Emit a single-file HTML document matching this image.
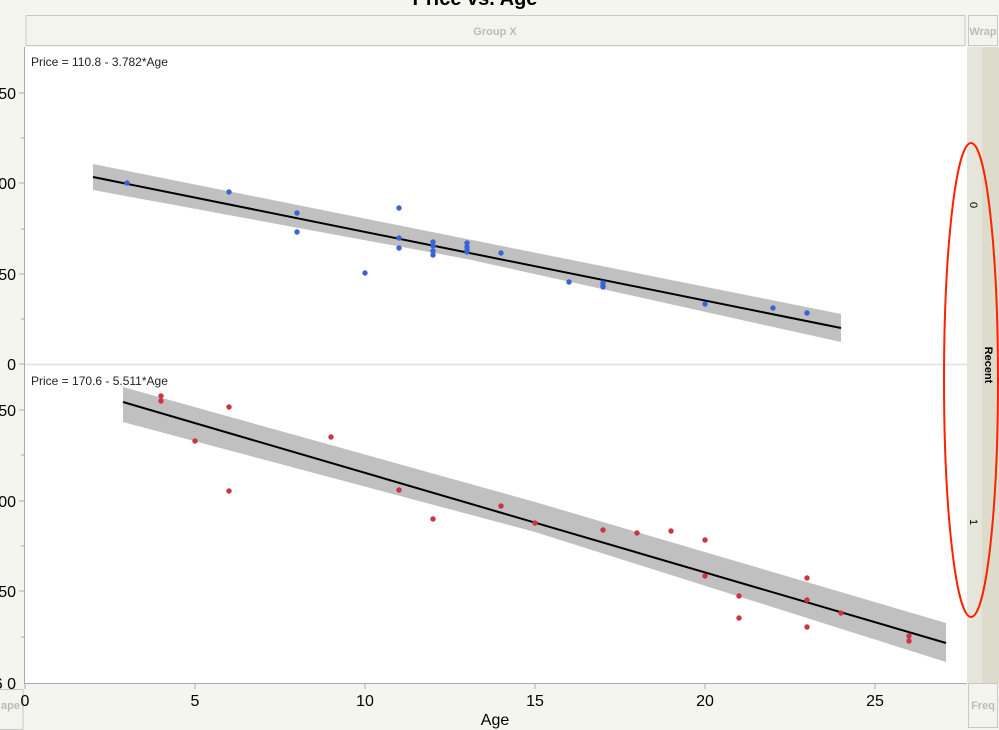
<!DOCTYPE html>
<html><head><style>body{margin:0;background:#f5f5f0;}svg{display:block;font-family:"Liberation Sans",sans-serif;}</style></head>
<body>
<svg width="999" height="730" viewBox="0 0 999 730">
<rect width="999" height="730" fill="#f5f5f0"/>
<text x="475" y="5" font-size="20" font-weight="bold" text-anchor="middle">Price vs. Age</text>
<rect x="26" y="15.5" width="939" height="30" fill="#f4f4ef" stroke="#c8c8c8"/>
<text x="495" y="35" font-size="11" font-weight="bold" fill="#bbb" text-anchor="middle">Group X</text>
<rect x="968.5" y="15.5" width="29" height="30" fill="#f4f4ef" stroke="#c8c8c8"/>
<text x="983" y="35" font-size="11" font-weight="bold" fill="#bbb" text-anchor="middle">Wrap</text>
<rect x="25" y="47" width="942" height="636" fill="#fff"/>
<line x1="25" y1="364.5" x2="967" y2="364.5" stroke="#e6e6e6" stroke-width="2"/>
<rect x="967" y="47" width="15" height="636" fill="#e6e5dc"/>
<rect x="982" y="47" width="17" height="636" fill="#dcdbcc"/>
<text x="0" y="0" font-size="11" transform="translate(970,205) rotate(90)" text-anchor="middle">0</text>
<text x="0" y="0" font-size="11" transform="translate(970,522) rotate(90)" text-anchor="middle">1</text>
<text x="0" y="0" font-size="11" font-weight="bold" transform="translate(985,365) rotate(90)" text-anchor="middle">Recent</text>
<rect x="-5" y="689.5" width="28" height="40" fill="#f4f4ef" stroke="#c8c8c8"/>
<text x="20" y="709" font-size="11" font-weight="bold" fill="#bbb" text-anchor="end">ape</text>
<line x1="24.5" y1="47" x2="24.5" y2="684" stroke="#aaa"/>
<line x1="24" y1="683.5" x2="967" y2="683.5" stroke="#aaa"/>
<g stroke="#aaa"><line x1="19" y1="93" x2="24" y2="93"/><line x1="21" y1="138" x2="24" y2="138"/><line x1="19" y1="183" x2="24" y2="183"/><line x1="21" y1="229" x2="24" y2="229"/><line x1="19" y1="274" x2="24" y2="274"/><line x1="21" y1="319" x2="24" y2="319"/><line x1="19" y1="364" x2="24" y2="364"/>
<line x1="19" y1="410" x2="24" y2="410"/><line x1="21" y1="455" x2="24" y2="455"/><line x1="19" y1="501" x2="24" y2="501"/><line x1="21" y1="546" x2="24" y2="546"/><line x1="19" y1="591" x2="24" y2="591"/><line x1="21" y1="637" x2="24" y2="637"/>
<line x1="25" y1="684" x2="25" y2="689"/><line x1="195" y1="684" x2="195" y2="689"/><line x1="365" y1="684" x2="365" y2="689"/><line x1="535" y1="684" x2="535" y2="689"/><line x1="705" y1="684" x2="705" y2="689"/><line x1="875" y1="684" x2="875" y2="689"/></g>
<g font-size="16" text-anchor="end"><text x="16" y="99">50</text><text x="16" y="189">00</text><text x="16" y="280">50</text><text x="16" y="370">0</text>
<text x="16" y="416">50</text><text x="16" y="507">00</text><text x="16" y="597">50</text><text x="16" y="689">6 0</text></g>
<g font-size="16" text-anchor="middle"><text x="25" y="706">0</text><text x="195" y="706">5</text><text x="365" y="706">10</text><text x="535" y="706">15</text><text x="705" y="706">20</text><text x="875" y="706">25</text></g>
<text x="495" y="725" font-size="16" text-anchor="middle">Age</text>
<rect x="968.5" y="683.5" width="29" height="44" fill="#f4f4ef" stroke="#c8c8c8"/>
<text x="983" y="709" font-size="11" font-weight="bold" fill="#bbb" text-anchor="middle">Freq</text>
<text x="31" y="66" font-size="12" fill="#222">Price = 110.8 - 3.782*Age</text>
<text x="31" y="385" font-size="12" fill="#222">Price = 170.6 - 5.511*Age</text>
<path d="M93,164 L467,239 L841,314 L841,342 L467,259 L93,190 Z" fill="#c0c0c0"/>
<line x1="93" y1="177" x2="841" y2="328" stroke="#000" stroke-width="2"/>
<path d="M123,387 L535,502 L946,623 L946,662 L535,532 L123,422 Z" fill="#c0c0c0"/>
<line x1="123" y1="402" x2="946" y2="643" stroke="#000" stroke-width="2"/>
<g fill="#3a63d6">
<circle cx="127" cy="183" r="2.7"/><circle cx="229" cy="192" r="2.7"/><circle cx="297" cy="213" r="2.7"/><circle cx="297" cy="232" r="2.7"/><circle cx="365" cy="273" r="2.7"/><circle cx="399" cy="208" r="2.7"/><circle cx="399" cy="238" r="2.7"/><circle cx="399" cy="248" r="2.7"/><circle cx="433" cy="242" r="2.7"/><circle cx="433" cy="246" r="2.7"/><circle cx="433" cy="251" r="2.7"/><circle cx="433" cy="255" r="2.7"/><circle cx="467" cy="243" r="2.7"/><circle cx="467" cy="247" r="2.7"/><circle cx="467" cy="250" r="2.7"/><circle cx="467" cy="252" r="2.7"/><circle cx="501" cy="253" r="2.7"/><circle cx="569" cy="282" r="2.7"/><circle cx="603" cy="283" r="2.7"/><circle cx="603" cy="286" r="2.7"/><circle cx="603" cy="287" r="2.7"/><circle cx="705" cy="304" r="2.7"/><circle cx="773" cy="308" r="2.7"/><circle cx="807" cy="313" r="2.7"/>
</g>
<g fill="#cc3344">
<circle cx="161" cy="396" r="2.7"/><circle cx="161" cy="401" r="2.7"/><circle cx="195" cy="441" r="2.7"/><circle cx="229" cy="407" r="2.7"/><circle cx="229" cy="491" r="2.7"/><circle cx="331" cy="437" r="2.7"/><circle cx="399" cy="490" r="2.7"/><circle cx="433" cy="519" r="2.7"/><circle cx="501" cy="506" r="2.7"/><circle cx="535" cy="523" r="2.7"/><circle cx="603" cy="530" r="2.7"/><circle cx="637" cy="533" r="2.7"/><circle cx="671" cy="531" r="2.7"/><circle cx="705" cy="540" r="2.7"/><circle cx="705" cy="576" r="2.7"/><circle cx="739" cy="596" r="2.7"/><circle cx="739" cy="618" r="2.7"/><circle cx="807" cy="578" r="2.7"/><circle cx="807" cy="600" r="2.7"/><circle cx="807" cy="627" r="2.7"/><circle cx="841" cy="613" r="2.7"/><circle cx="909" cy="636" r="2.7"/><circle cx="909" cy="641" r="2.7"/>
</g>
<ellipse cx="971" cy="380" rx="27" ry="237" fill="none" stroke="#ff2200" stroke-width="2"/>
</svg>
</body></html>
